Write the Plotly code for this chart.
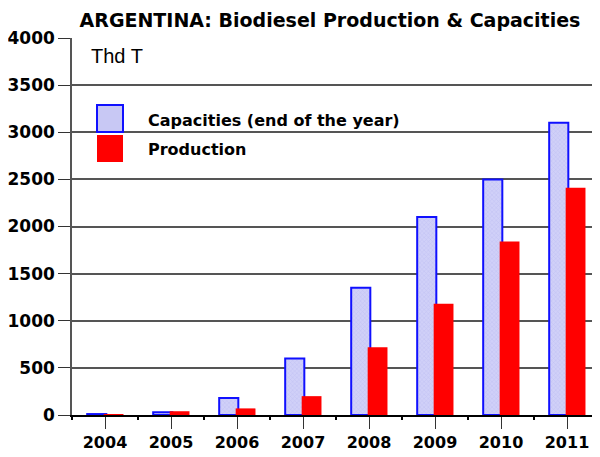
import plotly.graph_objects as go

years = [2004, 2005, 2006, 2007, 2008, 2009, 2010, 2011]
capacities = [10, 30, 180, 600, 1350, 2100, 2500, 3100]
production = [10, 40, 70, 200, 720, 1180, 1840, 2410]
y_ticks = [0, 500, 1000, 1500, 2000, 2500, 3000, 3500, 4000]

title_text = "ARGENTINA: Biodiesel Production & Capacities"
unit_text = "Thd T"
cap_name = "Capacities (end of the year)"
prod_name = "Production"

BFONT = "DejaVu Sans, Arial, sans-serif"
FONT = "Arial, Liberation Sans, sans-serif"

# page has an 8px body margin; figure is sized to fill the rest of the window
W, H = 592, 449
PL, PT, PW, PH = 64, 30, 528, 377  # plot area in figure pixels


def px(x):  # page x -> paper fraction
    return (x - 8 - PL) / PW


def py(y):  # page y -> paper fraction
    return (PT + PH - (y - 8)) / PH


fig = go.Figure()
fig.add_trace(go.Bar(
    x=years, y=capacities, name=cap_name,
    offset=-0.27, width=0.29,
    marker=dict(color="#c8c8f4", line=dict(color="#1010ff", width=2),
                pattern=dict(shape="x", bgcolor="#d0d0f8", fgcolor="#b0b0ec", size=3, solidity=0.3)),
    showlegend=False,
))
fig.add_trace(go.Bar(
    x=years, y=production, name=prod_name,
    offset=-0.02, width=0.30,
    marker=dict(color="#ff0000", line=dict(color="#ff0000", width=0)),
    showlegend=False,
))

# legend swatches and labels
fig.add_shape(type="rect", xref="paper", yref="paper",
              x0=px(97), x1=px(123), y0=py(132), y1=py(105),
              fillcolor="#c8c8f4", line=dict(color="#1010ff", width=2))
fig.add_shape(type="rect", xref="paper", yref="paper",
              x0=px(97), x1=px(123), y0=py(162), y1=py(135),
              fillcolor="#ff0000", line=dict(width=0))
fig.add_annotation(text="<b>" + cap_name + "</b>", xref="paper", yref="paper",
                   x=px(146), y=py(120), xanchor="left", yanchor="middle",
                   showarrow=False, font=dict(family=BFONT, size=16, color="black"))
fig.add_annotation(text="<b>" + prod_name + "</b>", xref="paper", yref="paper",
                   x=px(146), y=py(149), xanchor="left", yanchor="middle",
                   showarrow=False, font=dict(family=BFONT, size=16, color="black"))
fig.add_annotation(text=unit_text, xref="paper", yref="paper",
                   x=px(89), y=py(56), xanchor="left", yanchor="middle",
                   showarrow=False, font=dict(family=FONT, size=20, color="black"))

fig.update_layout(
    width=W, height=H,
    margin=dict(l=PL, r=W - PL - PW, t=PT, b=H - PT - PH),
    paper_bgcolor="white", plot_bgcolor="white",
    barmode="overlay",
    title=dict(text="<b>" + title_text + "</b>", x=(330 - 8) / W, xanchor="center",
               y=1 - (20 - 8) / H, yanchor="middle",
               font=dict(family=BFONT, size=19, color="black")),
    font=dict(family=BFONT, color="black"),
)
fig.update_xaxes(
    range=[2003.5, 2011.5], tickvals=years, ticktext=[f"<b>{y}</b>" for y in years],
    ticks="outside", ticklen=12, tickcolor="#333", tickwidth=1,
    showline=True, linecolor="black", linewidth=1.5,
    showgrid=False, zeroline=False,
    tickfont=dict(family=BFONT, size=16, color="black"),
    minor=dict(tick0=2003.5, dtick=1, ticks="outside", ticklen=3, tickcolor="black", tickwidth=2),
)
fig.update_yaxes(
    range=[0, 4000], tickvals=y_ticks, ticktext=[f"<b>{v}</b>" for v in y_ticks],
    ticks="outside", ticklen=12, tickcolor="#333",
    showline=True, linecolor="#555", linewidth=1.5,
    showgrid=True, gridcolor="#555", gridwidth=1.5,
    zeroline=False,
    tickfont=dict(family=BFONT, size=17, color="black"),
)

fig.write_html("out.html")
